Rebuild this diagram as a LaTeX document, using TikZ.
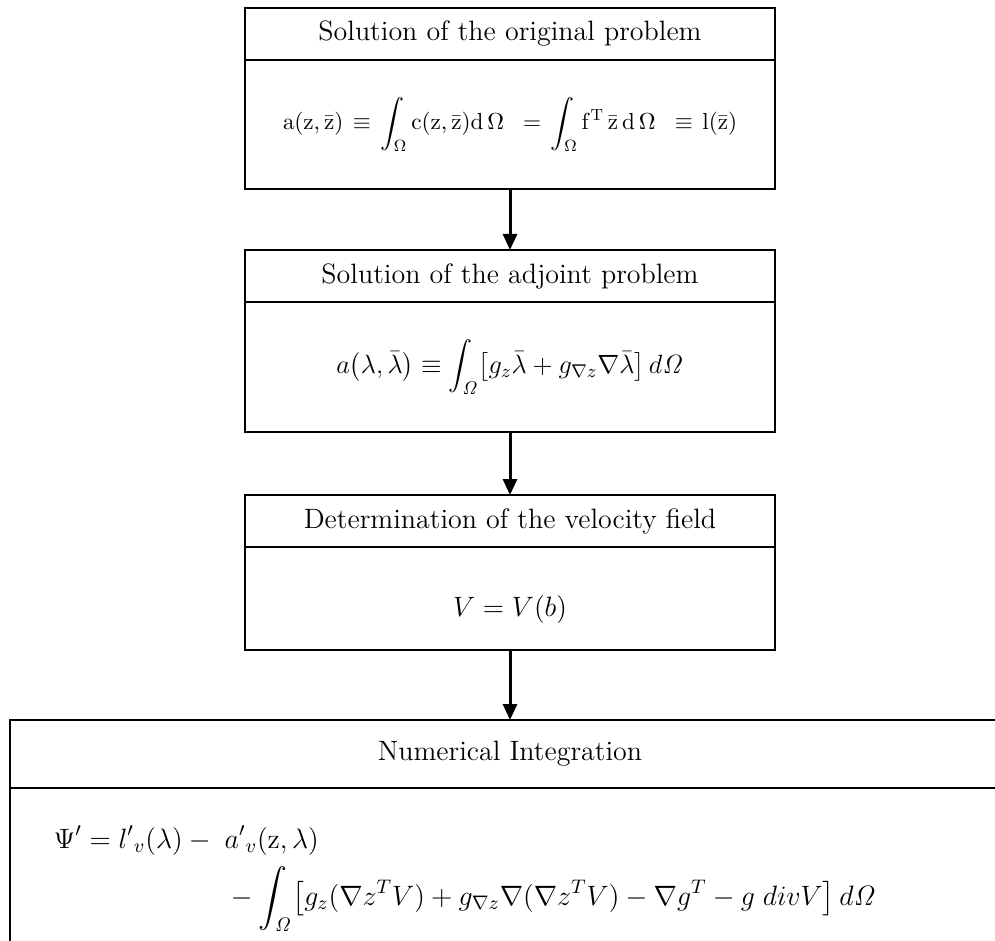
\RequirePackage{fix-cm}
\documentclass[tikz,border=0pt]{standalone}
\usepackage{amsmath}
\usetikzlibrary{positioning, arrows.meta}

\begin{document}
\begin{tikzpicture}[x=0.5pt,y=-0.5pt,
  every node/.style={outer sep=0pt},
  head/.style={draw, line width=1pt, minimum width=265pt, minimum height=26pt, font=\fontsize{14}{17}\selectfont},
  body/.style={draw, line width=1pt, minimum width=265pt, font=\fontsize{14}{17}\selectfont},
  flow/.style={-{Triangle[width=7pt,length=8pt]}, line width=1.5pt}]
\useasboundingbox (0,0) rectangle (995,941);
\clip (0,0) rectangle (995,941);

% original problem
\node[head, anchor=north] (origTitle) at (510,8) {Solution of the original problem};
\node[body, minimum height=64.5pt, text width=250pt, align=center, font=\fontsize{11.6}{14}\selectfont, below=0pt of origTitle] (origBody)
  {$\displaystyle \mathrm{a}(\mathrm{z},\bar{\mathrm{z}}) \equiv \int_{\Omega}\mathrm{c}(\mathrm{z},\bar{\mathrm{z}})\mathrm{d}\,\Omega \;= \int_{\Omega}\mathrm{f}^{\mathrm{T}}\,\bar{\mathrm{z}}\,\mathrm{d}\,\Omega \;\equiv \mathrm{l}(\bar{\mathrm{z}})$};

% adjoint problem
\node[head, anchor=north] (adjTitle) at (510,250) {Solution of the adjoint problem};
\node[body, minimum height=65pt, font=\fontsize{13.2}{16}\selectfont, below=0pt of adjTitle] (adjBody)
  {$\displaystyle a\bigl(\lambda,\bar{\lambda}\bigr) \equiv \int_{\mathit{\Omega}}\bigl[g_z\bar{\lambda} + g_{\nabla z}\nabla\bar{\lambda}\bigr]\,d\mathit{\Omega}$};

% velocity field
\node[head, anchor=north] (velTitle) at (510,495) {Determination of the velocity field};
\node[body, minimum height=51.5pt, below=0pt of velTitle] (velBody) {\raisebox{-9pt}[0pt][0pt]{$V = V(b)$}};

% numerical integration
\node[head, anchor=north west, minimum width=500pt, minimum height=34pt] (numTitle) at (10,720) {Numerical Integration};
\node[body, minimum width=500pt, minimum height=90pt, inner xsep=22pt, text width=456pt, align=left, below=0pt of numTitle] (numBody)
  {$\begin{aligned}
    \Psi' = {l'}_{v}(\lambda) - {}\; & {a'}_{v}(\mathrm{z},\lambda)\\
    & -\int_{\mathit{\Omega}}\bigl[g_z(\nabla z^TV) + g_{\nabla z}\nabla(\nabla z^TV) - \nabla g^T - g\;divV\bigr]\,d\mathit{\Omega}
  \end{aligned}$};

\draw[flow] (origBody) -- (adjTitle);
\draw[flow] (adjBody) -- (velTitle);
\draw[flow] (velBody) -- (velBody.south |- numTitle.north);
\end{tikzpicture}
\end{document}
